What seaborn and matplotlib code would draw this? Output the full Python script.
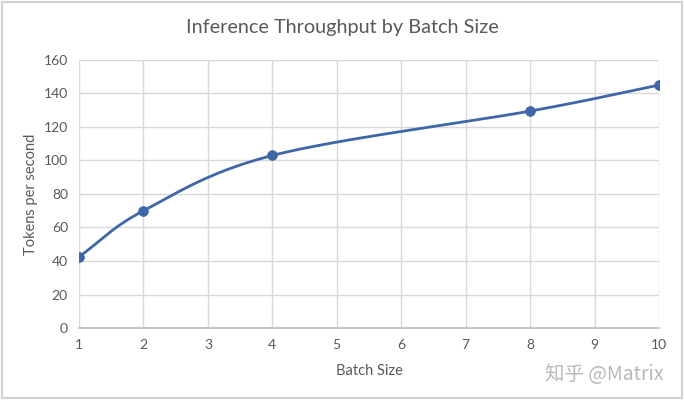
import numpy as np
import pandas as pd
import matplotlib
matplotlib.use("Agg")
import matplotlib.pyplot as plt
import seaborn as sns

batch_size = [1, 2, 4, 8, 10]
tokens_per_sec = [42.5, 70, 103, 129.5, 145]
x_ticks = list(range(1, 11))
y_ticks = list(range(0, 161, 20))

sns.set_theme(style="white")
plt.rcParams['font.family'] = ['Lato', 'Noto Sans CJK SC', 'DejaVu Sans']

TEXT = "#595959"
GRID = "#d9d9d9"
LINE = "#3f67a8"

def smooth(xs, ys, n=40, t=0.5):
    # Catmull-Rom style smoothing (Excel "smoothed line")
    xs = np.asarray(xs, float); ys = np.asarray(ys, float)
    px = np.concatenate([[2*xs[0]-xs[1]], xs, [2*xs[-1]-xs[-2]]])
    py = np.concatenate([[2*ys[0]-ys[1]], ys, [2*ys[-1]-ys[-2]]])
    outx, outy = [], []
    for i in range(1, len(px)-2):
        p0 = np.array([px[i], py[i]]); p1 = np.array([px[i+1], py[i+1]])
        m0 = (np.array([px[i+1], py[i+1]]) - np.array([px[i-1], py[i-1]])) / 6 * (2*t)
        m1 = (np.array([px[i+2], py[i+2]]) - np.array([px[i], py[i]])) / 6 * (2*t)
        c1 = p0 + m0; c2 = p1 - m1
        s = np.linspace(0, 1, n)[:, None]
        b = (1-s)**3*p0 + 3*(1-s)**2*s*c1 + 3*(1-s)*s**2*c2 + s**3*p1
        outx.extend(b[:, 0]); outy.extend(b[:, 1])
    return np.array(outx), np.array(outy)

df = pd.DataFrame({"Batch Size": batch_size, "Tokens per second": tokens_per_sec})
sx, sy = smooth(batch_size, tokens_per_sec)
curve = pd.DataFrame({"x": sx, "y": sy})

fig = plt.figure(figsize=(6.84, 4.0), dpi=100)
ax = fig.add_axes([79/684, 72/400, 580/684, 268/400])

sns.lineplot(data=curve, x="x", y="y", ax=ax, color=LINE, linewidth=2, sort=False, zorder=3)
sns.scatterplot(data=df, x="Batch Size", y="Tokens per second", ax=ax, color=LINE,
                s=50, edgecolor=LINE, linewidth=0.5, zorder=4)

ax.set_xlim(1, 10)
ax.set_ylim(0, 160)
ax.set_xticks(x_ticks)
ax.set_yticks(y_ticks)
ax.grid(True, color=GRID, linewidth=1)
ax.set_axisbelow(True)
for s in ["top", "right", "left"]:
    ax.spines[s].set_visible(False)
ax.spines["bottom"].set_color("#bfbfbf")
ax.tick_params(axis="both", colors=TEXT, labelsize=10, length=0, pad=8)
ax.set_xlabel("Batch Size", color=TEXT, fontsize=10.5)
ax.set_ylabel("Tokens per second", color=TEXT, fontsize=10.5)
ax.yaxis.set_label_coords(-0.071, 0.5)
ax.xaxis.set_label_coords(0.5, -0.134)

fig.text(0.5, 1 - 28/400, "Inference Throughput by Batch Size", ha="center", va="center",
         fontsize=14.3, color=TEXT)
fig.text(604/684, 1 - 374/400, "知乎 @Matrix", ha="center", va="center", fontsize=14,
         color="#b8b8b8", family=['Noto Sans CJK SC', 'DejaVu Sans'])

fig.patches.append(plt.Rectangle((0.003, 0.004), 0.994, 0.992, transform=fig.transFigure,
                                 fill=False, edgecolor="#d0d0d0", linewidth=1.5))

fig.savefig("out.png", dpi=100, facecolor="white")
